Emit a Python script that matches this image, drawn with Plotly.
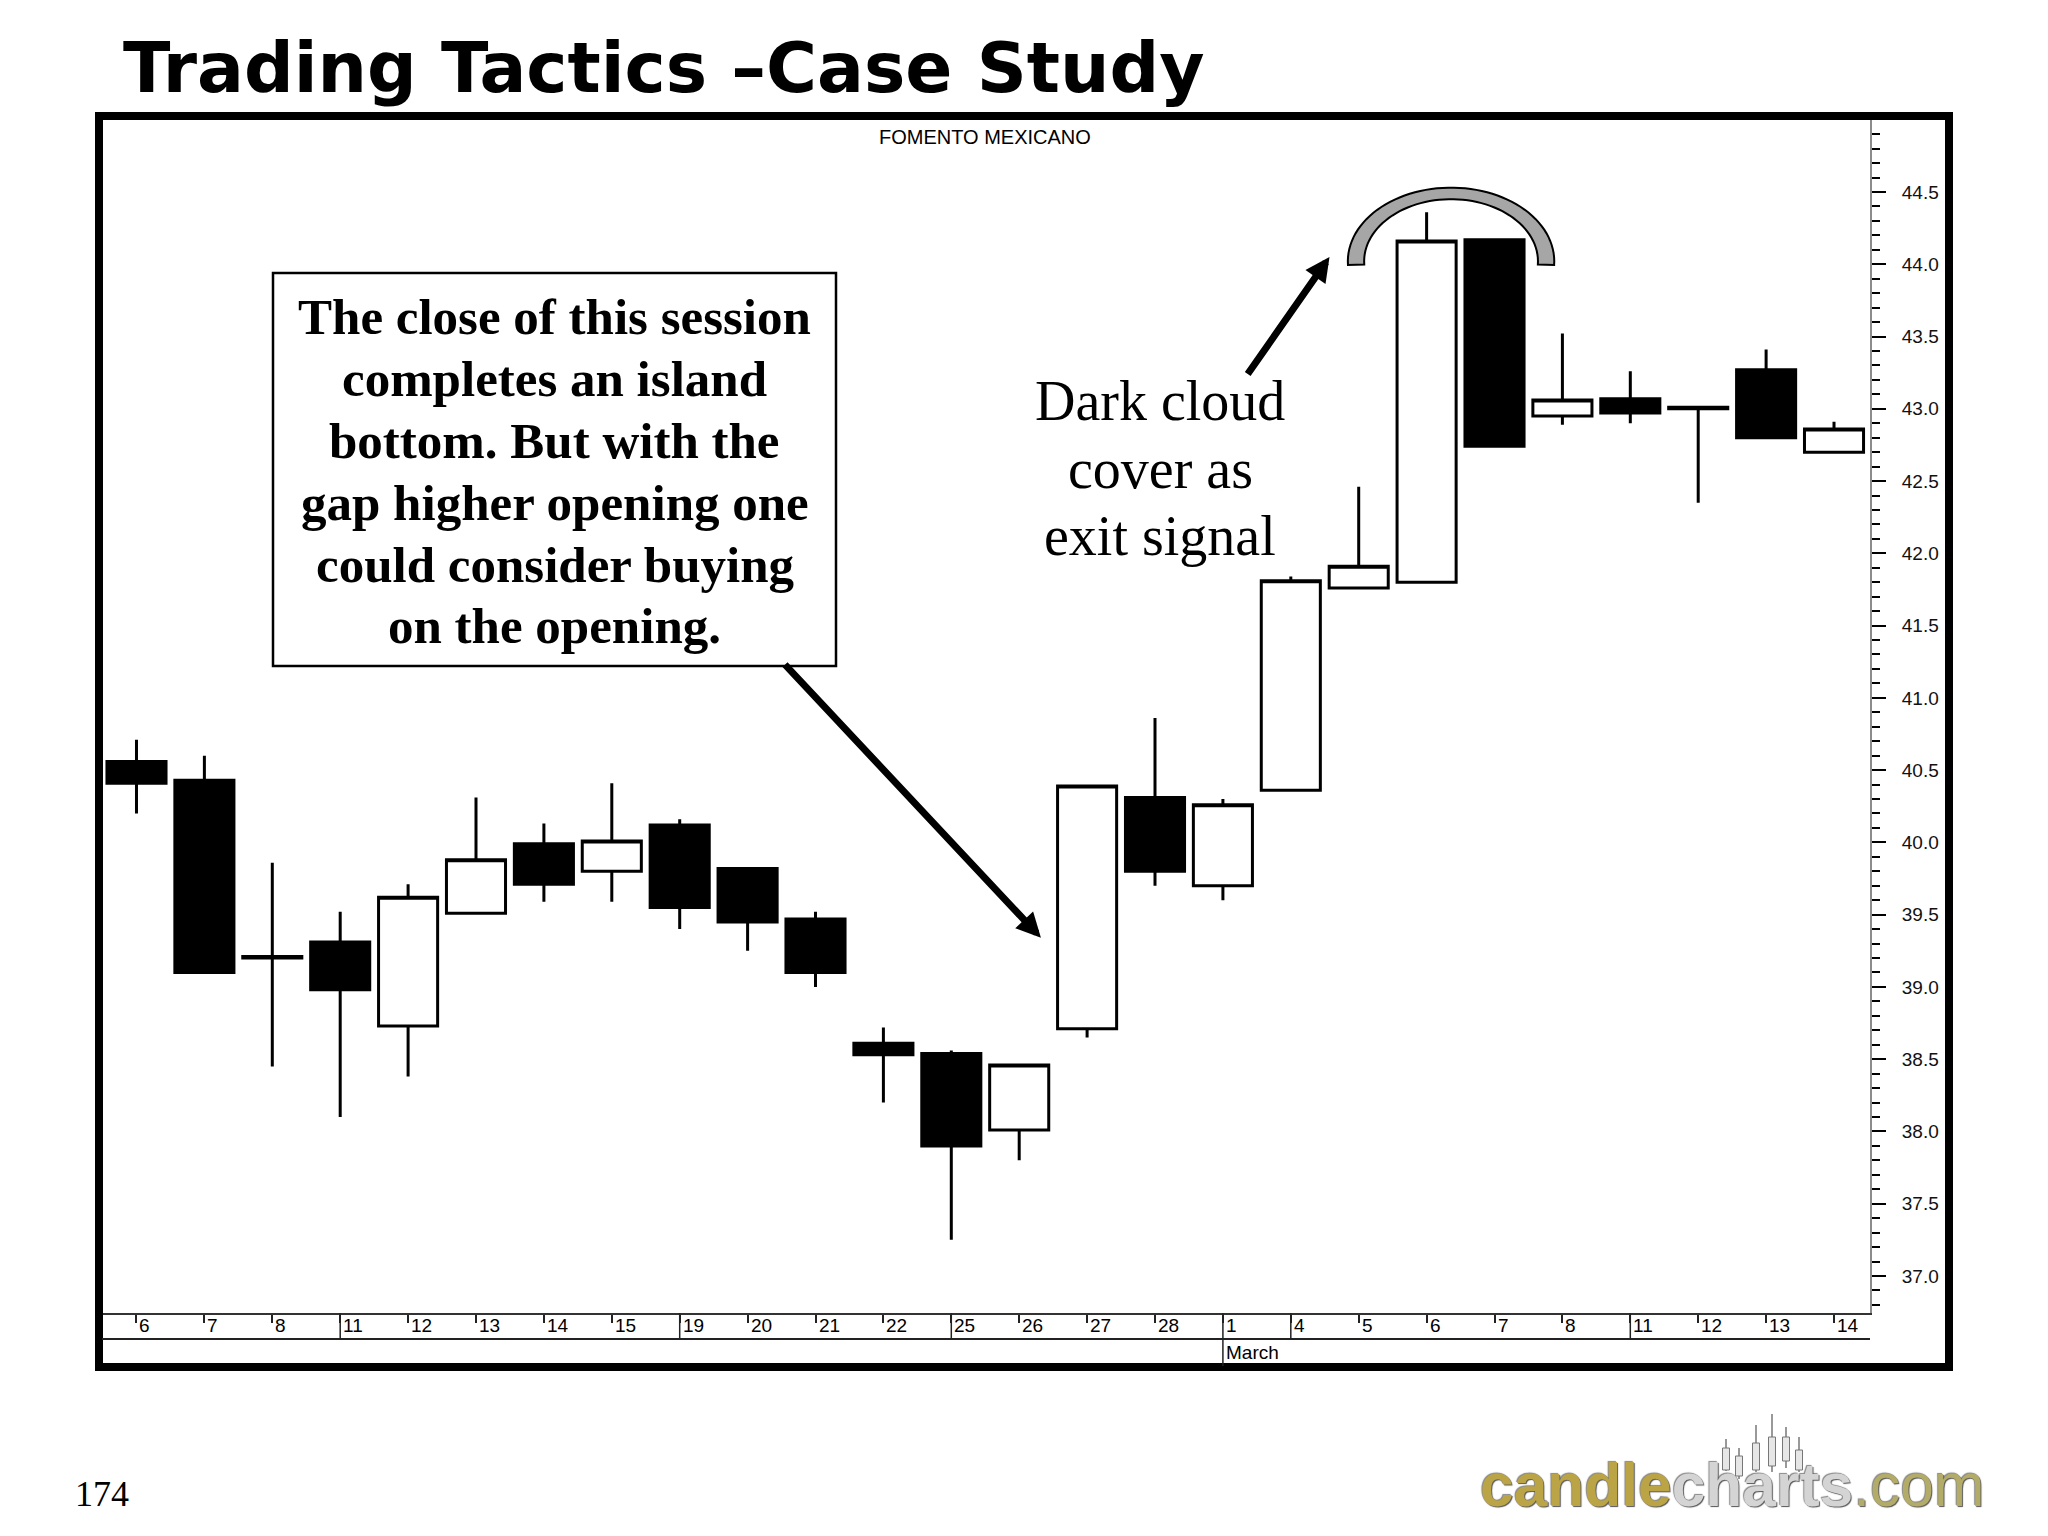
import numpy as np
import pandas as pd
import plotly.graph_objects as go

# ---------------- data ----------------
dates = ["2002-02-06", "2002-02-07", "2002-02-08", "2002-02-11", "2002-02-12",
         "2002-02-13", "2002-02-14", "2002-02-15", "2002-02-19", "2002-02-20",
         "2002-02-21", "2002-02-22", "2002-02-25", "2002-02-26", "2002-02-27",
         "2002-02-28", "2002-03-01", "2002-03-04", "2002-03-05", "2002-03-06",
         "2002-03-07", "2002-03-08", "2002-03-11", "2002-03-12", "2002-03-13",
         "2002-03-14"]
opens = [40.56, 40.43, 39.21, 39.31, 38.73, 39.51, 39.99, 39.80, 40.12, 39.82,
         39.47, 38.61, 38.54, 38.01, 38.71, 40.31, 39.70, 40.36, 41.76, 41.80,
         44.17, 42.95, 43.07, 43.01, 43.27, 42.70]
highs = [40.71, 40.60, 39.86, 39.52, 39.71, 40.31, 40.13, 40.41, 40.16, 39.82,
         39.52, 38.72, 38.56, 38.46, 40.39, 40.86, 40.30, 41.84, 42.46, 44.36,
         44.17, 43.52, 43.26, 43.01, 43.41, 42.91]
lows = [40.20, 39.10, 38.45, 38.10, 38.38, 39.51, 39.59, 39.59, 39.40, 39.25,
        39.00, 38.20, 37.25, 37.80, 38.65, 39.70, 39.60, 40.36, 41.76, 41.80,
        42.74, 42.89, 42.90, 42.35, 42.80, 42.70]
closes = [40.41, 39.10, 39.20, 38.98, 39.62, 39.88, 39.71, 40.01, 39.55, 39.45,
          39.10, 38.53, 37.90, 38.46, 40.39, 39.80, 40.26, 41.81, 41.91, 44.16,
          42.74, 43.06, 42.97, 43.00, 42.80, 42.86]

title_text = "Trading Tactics \u2013Case Study"
chart_name = "FOMENTO MEXICANO"
box_lines = ["The close of this session", "completes an island",
             "bottom. But with the", "gap higher opening one",
             "could consider buying", "on the opening."]
cloud_lines = ["Dark cloud", "cover as", "exit signal"]
page_number = "174"

# ---------------- geometry helpers (pixel -> paper) ----------------
W, H = 2048, 1536
L, R, T, B = 102, 1870, 120, 1313


def px(x):
    return (x - L) / (R - L)


def py(y):
    return (B - y) / (B - T)


dt = pd.to_datetime(dates)
idx = np.arange(len(dates))
day_labels = [str(d.day) for d in dt]
week_start = [i > 0 and dt[i].isocalendar()[1] != dt[i - 1].isocalendar()[1] for i in idx]
month_start = [i > 0 and dt[i].month != dt[i - 1].month for i in idx]

fig = go.Figure()
fig.add_trace(go.Candlestick(
    x=idx, open=opens, high=highs, low=lows, close=closes,
    increasing=dict(fillcolor="white", line=dict(color="black", width=3)),
    decreasing=dict(fillcolor="black", line=dict(color="black", width=3)),
    whiskerwidth=0, hoverinfo="skip", showlegend=False))

shapes = []
# outer frame
shapes.append(dict(type="rect", xref="paper", yref="paper",
                   x0=px(99), x1=px(1949), y0=py(1367), y1=py(116),
                   line=dict(color="black", width=8), fillcolor="rgba(0,0,0,0)",
                   layer="above"))
# date strip middle line
shapes.append(dict(type="line", xref="paper", yref="paper", x0=0, x1=1,
                   y0=py(1339), y1=py(1339), line=dict(color="#222", width=2)))
# week / month separators
for i in idx:
    if month_start[i]:
        shapes.append(dict(type="line", xref="x", yref="paper", x0=i, x1=i,
                           y0=0, y1=py(1366), line=dict(color="#222", width=1.5)))
    elif week_start[i]:
        shapes.append(dict(type="line", xref="x", yref="paper", x0=i, x1=i,
                           y0=0, y1=py(1339), line=dict(color="#222", width=1.5)))
# text box
shapes.append(dict(type="rect", xref="paper", yref="paper",
                   x0=px(273), x1=px(836), y0=py(666), y1=py(273),
                   line=dict(color="black", width=2.5), fillcolor="white"))
# gray arc over the dark cloud cover
cx, cy = 19.36, 44.02
t_out = np.linspace(np.pi + 0.05, -0.05, 60)
t_in = t_out[::-1]
pts = [(cx + 1.52 * np.cos(t), cy + 0.51 * np.sin(t)) for t in t_out]
pts += [(cx + 1.28 * np.cos(t), cy + 0.43 * np.sin(t)) for t in t_in]
path = "M " + " L ".join(f"{a:.4f},{b:.4f}" for a, b in pts) + " Z"
shapes.append(dict(type="path", xref="x", yref="y", path=path,
                   fillcolor="#a6a6a6", line=dict(color="black", width=2)))

# logo mini candles
logo_candles = [(1726, 1439, 1448, 1470, 1471), (1739, 1448, 1456, 1476, 1479),
                (1756, 1425, 1443, 1470, 1472), (1772, 1414, 1437, 1466, 1472),
                (1786, 1427, 1437, 1461, 1468), (1799, 1437, 1450, 1470, 1472)]
for xc, hi, top, bot, lo in logo_candles:
    shapes.append(dict(type="line", xref="paper", yref="paper", x0=px(xc), x1=px(xc),
                       y0=py(lo), y1=py(hi), line=dict(color="#777", width=1.5)))
    shapes.append(dict(type="rect", xref="paper", yref="paper", x0=px(xc - 3.5),
                       x1=px(xc + 3.5), y0=py(bot), y1=py(top),
                       line=dict(color="#777", width=1), fillcolor="#e6e6e6"))

ann = []
ann.append(dict(text=title_text, xref="paper", yref="paper", x=px(121), y=py(67),
                xanchor="left", yanchor="middle", showarrow=False,
                font=dict(family="DejaVu Sans", size=69.5, color="black", weight="bold")))
ann.append(dict(text=chart_name, xref="paper", yref="paper", x=px(985), y=py(137),
                xanchor="center", yanchor="middle", showarrow=False,
                font=dict(family="Liberation Sans, Arial", size=20, color="black")))
for k, line in enumerate(box_lines):
    base = 334.6 + 61.8 * k
    ann.append(dict(text=line, xref="paper", yref="paper", x=px(554.5),
                    y=py(base - 0.3375 * 51), xanchor="center", yanchor="middle",
                    showarrow=False,
                    font=dict(family="Liberation Serif, Times New Roman", size=51,
                              color="black", weight="bold")))
for k, line in enumerate(cloud_lines):
    base = 420 + 67.5 * k
    ann.append(dict(text=line, xref="paper", yref="paper", x=px(1160),
                    y=py(base - 0.3375 * 56), xanchor="center", yanchor="middle",
                    showarrow=False,
                    font=dict(family="Liberation Serif, Times New Roman", size=56,
                              color="black")))
# arrows
ann.append(dict(text="", x=13.32, y=39.34, ax=9.53, ay=41.24, xref="x", yref="y",
                axref="x", ayref="y", showarrow=True, arrowhead=2, arrowsize=0.7,
                arrowwidth=7, arrowcolor="black", standoff=0))
ann.append(dict(text="", x=17.57, y=44.05, ax=16.35, ay=43.23, xref="x", yref="y",
                axref="x", ayref="y", showarrow=True, arrowhead=2, arrowsize=0.7,
                arrowwidth=7, arrowcolor="black", standoff=0))
# date labels
for i in idx:
    ann.append(dict(text=day_labels[i], xref="x", yref="paper", x=i, y=py(1326),
                    xanchor="left", yanchor="middle", xshift=1, showarrow=False,
                    font=dict(family="Liberation Sans Narrow, Arial Narrow, Liberation Sans",
                              size=19, color="black")))
    if month_start[i]:
        ann.append(dict(text=dt[i].strftime("%B"), xref="x", yref="paper", x=i,
                        y=py(1352), xanchor="left", yanchor="middle", xshift=1,
                        showarrow=False,
                        font=dict(family="Liberation Sans Narrow, Arial Narrow, Liberation Sans",
                                  size=19, color="black")))
ann.append(dict(text=page_number, xref="paper", yref="paper", x=px(73), y=py(1494),
                xanchor="left", yanchor="middle", showarrow=False,
                font=dict(family="Liberation Serif, Times New Roman", size=36, color="black")))
ann.append(dict(text="<span style='color:#bba445'>candle</span>"
                     "<span style='color:#d4d4d4'>charts</span>"
                     "<span style='color:#b3ab68;font-weight:normal'>.com</span>",
                xref="paper", yref="paper", x=px(1478), y=py(1506 - 0.35 * 60.5),
                xanchor="left", yanchor="middle", showarrow=False,
                font=dict(family="Liberation Sans, Arial", size=60.5, weight="bold",
                          shadow="1px 1px 1px #555, -1px -1px 1px #888")))

fig.update_layout(
    width=W, height=H, autosize=False,
    margin=dict(l=L, r=W - R, t=T, b=H - B, pad=0),
    paper_bgcolor="white", plot_bgcolor="white",
    showlegend=False, boxgap=0.13, boxgroupgap=0,
    shapes=shapes, annotations=ann,
    xaxis=dict(range=[-0.508, 25.53], rangeslider=dict(visible=False),
               showgrid=False, zeroline=False, showline=True, linecolor="#333",
               linewidth=2, ticks="outside", ticklen=8, tickwidth=1.5,
               tickcolor="#222", tickvals=list(idx), showticklabels=False,
               fixedrange=True),
    yaxis=dict(side="right", range=[36.744, 44.998], dtick=0.5, tick0=0,
               tickformat=".1f", showgrid=False, zeroline=False, showline=True,
               linecolor="#8c8c8c", linewidth=2, ticks="outside", ticklen=14,
               tickwidth=2, tickcolor="black", ticklabelstandoff=12,
               tickfont=dict(family="Liberation Sans, Arial", size=19, color="#111"),
               minor=dict(dtick=0.1, tick0=0, ticks="outside", ticklen=8,
                          tickwidth=2, tickcolor="black"),
               fixedrange=True),
)

fig.write_html("out.html", config={"displayModeBar": False},
               post_script="document.body.style.margin='0';")
